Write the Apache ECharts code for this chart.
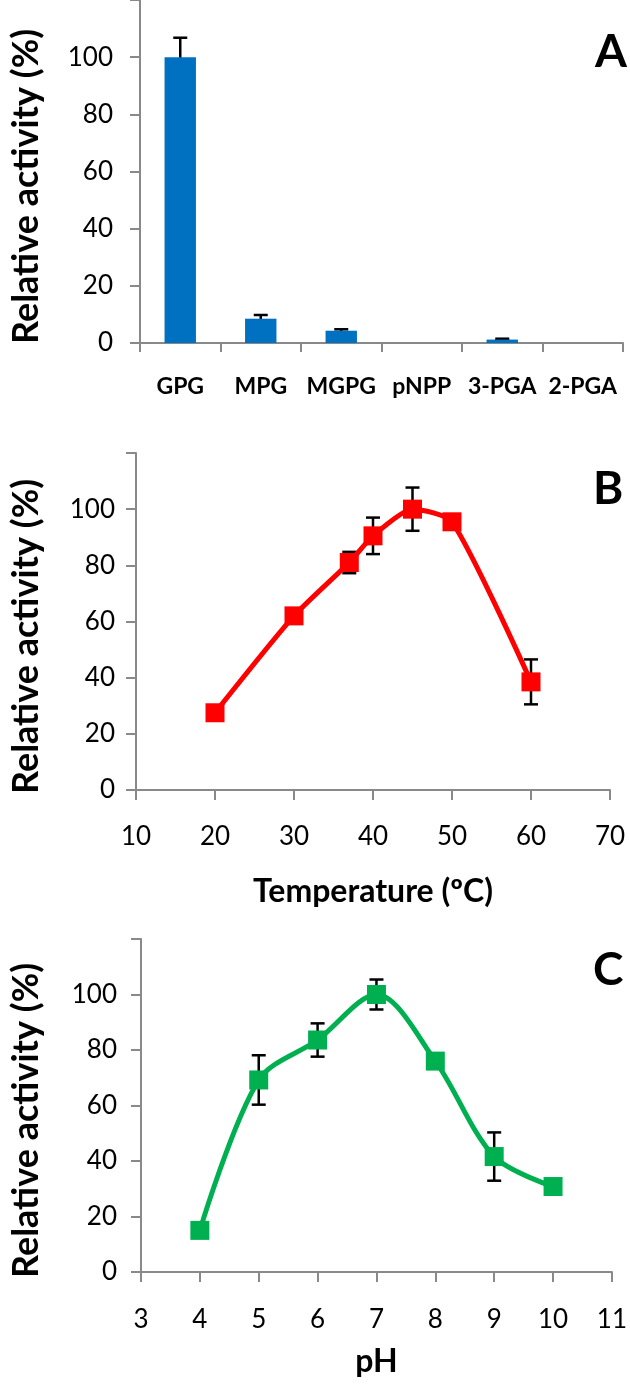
<!DOCTYPE html>
<html>
<head>
<meta charset="utf-8">
<script src="https://cdn.jsdelivr.net/npm/echarts@6/dist/echarts.min.js"></script>
<style>
html,body{margin:0;padding:0;background:#fff;}
#chart{width:630px;height:1391px;}
</style>
</head>
<body>
<div id="chart"></div>
<script>
// Panel A: substrate specificity
const categoriesA = ['GPG', 'MPG', 'MGPG', 'pNPP', '3-PGA', '2-PGA'];
const activityA = [100, 8.5, 4.3, 0, 1.2, 0];
const errorA = [6.8, 1.3, 0.5, 0, 0.3, 0];

// Panel B: temperature
const tempB = [20, 30, 37, 40, 45, 50, 60];
const activityB = [27.5, 62, 81, 90.5, 100, 95.5, 38.5];
const errorB = [0, 0, 3.8, 6.5, 7.7, 1, 8];

// Panel C: pH
const pHC = [4, 5, 6, 7, 8, 9, 10];
const activityC = [15, 69.2, 83.6, 100, 76, 41.6, 30.8];
const errorC = [0, 8.9, 6, 5.4, 2, 8.7, 0];

const yTicks = [0, 20, 40, 60, 80, 100];

const FONT = 'Lato';
const AXIS_COLOR = '#898989';
const TEXT_COLOR = '#000';

const chart = echarts.init(document.getElementById('chart'), null, {renderer: 'canvas'});

function yAxisFor(gridIndex, margin, gap) {
  return {
    type: 'value', gridIndex: gridIndex, min: 0, max: 120, interval: 20,
    name: 'Relative activity (%)', nameLocation: 'middle', nameGap: gap,
    nameTextStyle: {fontFamily: FONT, fontWeight: 'bold', fontSize: 36, color: TEXT_COLOR, padding: [0, 30, 0, 0]},
    axisLine: {show: true, lineStyle: {color: AXIS_COLOR, width: 2}},
    axisTick: {show: true, length: 10, lineStyle: {color: AXIS_COLOR, width: 2}},
    splitLine: {show: false},
    axisLabel: {
      margin: margin, fontFamily: FONT, fontSize: 26, color: TEXT_COLOR,
      formatter: function (v) { return yTicks.indexOf(v) >= 0 ? String(v) : ''; }
    }
  };
}

function errorSeries(xIndex, yIndex, xs, ys, errs, isCategory) {
  const data = [];
  for (let i = 0; i < ys.length; i++) {
    if (errs[i] > 0) data.push([isCategory ? i : xs[i], ys[i] - errs[i], ys[i] + errs[i]]);
  }
  return {
    type: 'custom', xAxisIndex: xIndex, yAxisIndex: yIndex, z: 1,
    data: data,
    renderItem: function (params, api) {
      const x = api.value(0);
      const lo = api.coord([x, api.value(1)]);
      const hi = api.coord([x, api.value(2)]);
      const hw = 7;
      const style = {stroke: '#000', lineWidth: 2.5, fill: null};
      return {
        type: 'group',
        children: [
          {type: 'line', shape: {x1: lo[0], y1: lo[1], x2: hi[0], y2: hi[1]}, style: style},
          {type: 'line', shape: {x1: lo[0] - hw, y1: lo[1], x2: lo[0] + hw, y2: lo[1]}, style: style},
          {type: 'line', shape: {x1: hi[0] - hw, y1: hi[1], x2: hi[0] + hw, y2: hi[1]}, style: style}
        ]
      };
    }
  };
}

function pairs(xs, ys) { return xs.map(function (x, i) { return [x, ys[i]]; }); }

const option = {
  animation: false,
  backgroundColor: '#fff',
  textStyle: {fontFamily: FONT},
  title: [
    {text: 'A', left: 590, top: 24, textStyle: {fontFamily: FONT, fontWeight: 'bold', fontSize: 46, color: '#000'}},
    {text: 'B', left: 588, top: 461, textStyle: {fontFamily: FONT, fontWeight: 'bold', fontSize: 46, color: '#000'}},
    {text: 'C', left: 588, top: 942, textStyle: {fontFamily: FONT, fontWeight: 'bold', fontSize: 46, color: '#000'}}
  ],
  grid: [
    {left: 132, right: 7, top: -11, height: 354, containLabel: false},
    {left: 128, right: 20, top: 453, height: 337, containLabel: false},
    {left: 132.5, right: 15.5, top: 939, height: 333, containLabel: false}
  ],
  xAxis: [
    {
      type: 'category', gridIndex: 0, data: categoriesA,
      axisLine: {lineStyle: {color: AXIS_COLOR, width: 2}},
      axisTick: {show: true, length: 9, alignWithLabel: false, lineStyle: {color: AXIS_COLOR, width: 2}},
      axisLabel: {margin: 32, fontFamily: FONT, fontWeight: 'bold', fontSize: 23, color: TEXT_COLOR, interval: 0}
    },
    {
      type: 'value', gridIndex: 1, min: 10, max: 70, interval: 10,
      name: 'Temperature (ºC)', nameLocation: 'middle', nameGap: 86,
      nameTextStyle: {fontFamily: FONT, fontWeight: 'bold', fontSize: 32, color: TEXT_COLOR},
      axisLine: {lineStyle: {color: AXIS_COLOR, width: 2}},
      axisTick: {show: true, length: 10, lineStyle: {color: AXIS_COLOR, width: 2}},
      splitLine: {show: false},
      axisLabel: {margin: 34, fontFamily: FONT, fontSize: 26, color: TEXT_COLOR}
    },
    {
      type: 'value', gridIndex: 2, min: 3, max: 11, interval: 1,
      name: 'pH', nameLocation: 'middle', nameGap: 74,
      nameTextStyle: {fontFamily: FONT, fontWeight: 'bold', fontSize: 32, color: TEXT_COLOR},
      axisLine: {lineStyle: {color: AXIS_COLOR, width: 2}},
      axisTick: {show: true, length: 10, lineStyle: {color: AXIS_COLOR, width: 2}},
      splitLine: {show: false},
      axisLabel: {margin: 35, fontFamily: FONT, fontSize: 26, color: TEXT_COLOR}
    }
  ],
  yAxis: [
    yAxisFor(0, 27, 96),
    yAxisFor(1, 21, 92),
    yAxisFor(2, 24, 97)
  ],
  series: [
    {
      type: 'bar', xAxisIndex: 0, yAxisIndex: 0, data: activityA,
      barCategoryGap: '61%', itemStyle: {color: '#0070C0'}, z: 1
    },
    errorSeries(0, 0, categoriesA, activityA, errorA, true),
    errorSeries(1, 1, tempB, activityB, errorB, false),
    {
      type: 'line', xAxisIndex: 1, yAxisIndex: 1, data: pairs(tempB, activityB),
      smooth: 0.22, symbol: 'rect', symbolSize: 19, showAllSymbol: true,
      lineStyle: {color: '#FF0000', width: 5}, itemStyle: {color: '#FF0000'}, z: 3
    },
    errorSeries(2, 2, pHC, activityC, errorC, false),
    {
      type: 'line', xAxisIndex: 2, yAxisIndex: 2, data: pairs(pHC, activityC),
      smooth: 0.32, symbol: 'rect', symbolSize: 19, showAllSymbol: true,
      lineStyle: {color: '#00B050', width: 5}, itemStyle: {color: '#00B050'}, z: 3
    }
  ]
};

chart.setOption(option);
</script>
</body>
</html>
